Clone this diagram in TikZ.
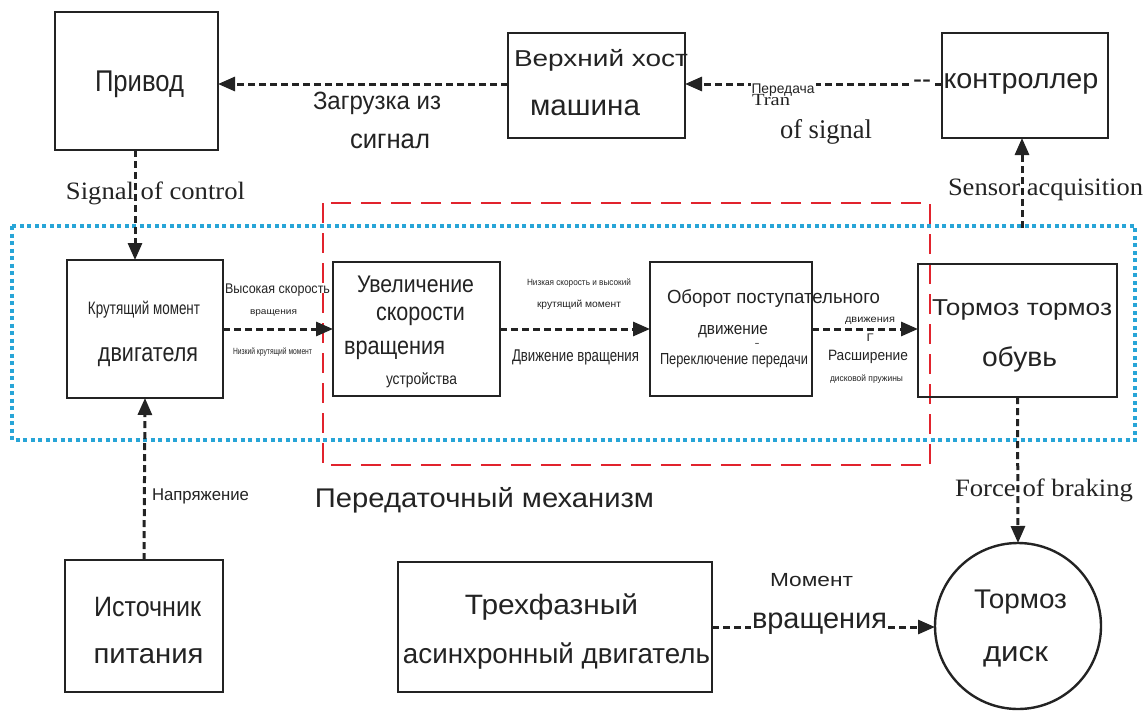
\documentclass[tikz,border=0pt]{standalone}
\usepackage{fontspec}
\usepackage{graphicx}
\setmainfont{Liberation Sans}
\newfontfamily\tms{Liberation Serif}
\usetikzlibrary{arrows.meta}
\definecolor{ink}{RGB}{35,35,35}
\definecolor{cyanb}{RGB}{40,165,215}
\definecolor{redb}{RGB}{225,35,45}
% \tx{width}{size}{text}: text set at a size, then fitted to a width
\newcommand\tx[3]{\resizebox{#1pt}{\height}{\fontsize{#2}{#2}\selectfont #3}}
\newcommand\txs[3]{\resizebox{#1pt}{\height}{\tms\fontsize{#2}{#2}\selectfont #3}}
\tikzset{
  box/.style={draw=ink, line width=2.4pt, inner sep=0pt, outer sep=0pt},
  arr/.style={draw=ink, line width=3pt, dash pattern=on 7pt off 4pt, -{Triangle[length=17pt,width=14pt]}},
  lbl/.style={text=ink, inner sep=1pt},
  wb/.style={fill=white}
}
\begin{document}
\begin{tikzpicture}[x=1pt,y=-1pt]
\useasboundingbox (0,0) rectangle (1148,720);
% group frames
\draw[cyanb, line width=3.5pt, dash pattern=on 4pt off 3.5pt] (12,226) rectangle (1135,440);
\draw[redb, line width=2.6pt, dash pattern=on 20pt off 10pt] (323,203) rectangle (930,465);
% boxes
\node[box, minimum width=163pt, minimum height=138pt] (privod) at (136.5,81) {};
\node[box, minimum width=177pt, minimum height=105pt] (host) at (596.5,85.5) {};
\node[box, minimum width=166pt, minimum height=105pt] (kont) at (1025,85.5) {};
\node[box, minimum width=156pt, minimum height=138pt] (krut) at (145,329) {};
\node[box, minimum width=167pt, minimum height=134pt] (uvel) at (416.5,329) {};
\node[box, minimum width=162pt, minimum height=134pt] (obor) at (731,329) {};
\node[box, minimum width=199pt, minimum height=133pt] (obuv) at (1017.5,330.5) {};
\node[box, minimum width=158pt, minimum height=132pt] (ist) at (144,626) {};
\node[box, minimum width=314pt, minimum height=130pt] (tri) at (555,627) {};
\node[box, circle, minimum size=166pt] (disk) at (1018,626) {};
\coordinate (sa) at (1022,228);
% connectors
\draw[arr] (kont.west |- 0,84) -- (host.east |- 0,84);
\draw[arr] (host.west |- 0,84) -- (privod.east |- 0,84);
\draw[arr] (135,150) -- (135,260);
\draw[arr] (ist.north) -- (krut.south);
\draw[arr] (krut.east) -- (uvel.west);
\draw[arr] (uvel.east) -- (obor.west);
\draw[arr] (obor.east) -- (obuv.west |- obor.east);
\draw[arr] (sa) -- (sa |- kont.south);
\draw[arr] (obuv.south) -- (disk.north);
\draw[arr] (tri.east) -- (disk.west |- tri.east);
% texts
\node[lbl] (t1) at (139.5,84) {\tx{89}{30}{Привод}};
\node[lbl] (t2) at (601,60) {\tx{174}{23}{Верхний хост}};
\node[lbl] (t3) at (585,108) {\tx{110}{29}{машина}};
\node[lbl, wb] (t4a) at (1021,84) {\tx{155}{28}{контроллер}};
\node[lbl, wb] (t4) at (922,84) {\tx{18}{28}{-{}-}};
\node[lbl] (t5) at (377,103) {\tx{128}{25}{Загрузка из}};
\node[lbl] (t6) at (390,141) {\tx{80}{27}{сигнал}};
\node[lbl, wb] (t7) at (783,90) {\tx{63}{14}{Передача}};
\node[lbl] (t8) at (771,100) {\txs{38}{17}{Tran}};
\node[lbl] (t9) at (826,132) {\txs{92}{27}{of signal}};
\node[lbl] (t10) at (155.5,193) {\txs{179}{25}{Signal of control}};
\node[lbl] (t11) at (1045.5,190) {\txs{195}{25}{Sensor acquisition}};
\node[lbl] (t12) at (1044,490) {\txs{178}{25}{Force of braking}};
\node[lbl] (t13) at (144,310) {\tx{112}{18}{Крутящий момент}};
\node[lbl] (t14) at (148,357) {\tx{100}{26}{двигателя}};
\node[lbl] (t15) at (147.5,607) {\tx{107}{28}{Источник}};
\node[lbl] (t16) at (148.5,656) {\tx{110}{28}{питания}};
\node[lbl] (t17) at (200.5,496) {\tx{97}{17}{Напряжение}};
\node[lbl] (t18) at (484.5,500) {\tx{339}{27}{Передаточный механизм}};
\node[lbl] (t19) at (415.5,284) {\tx{117}{24}{Увеличение}};
\node[lbl] (t20) at (420.5,316) {\tx{89}{25}{скорости}};
\node[lbl] (t21) at (394.5,350) {\tx{101}{25}{вращения}};
\node[lbl] (t22) at (421.5,380) {\tx{71}{16}{устройства}};
\node[lbl] (t23) at (277.5,290) {\tx{105}{14}{Высокая скорость}};
\node[lbl] (t24) at (273.5,313) {\tx{47}{9}{вращения}};
\node[lbl] (t25) at (272.5,352) {\tx{79}{9}{Низкий крутящий момент}};
\node[lbl] (t26) at (579,283) {\tx{104}{9}{Низкая скорость и высокий}};
\node[lbl] (t27) at (579,305) {\tx{84}{10}{крутящий момент}};
\node[lbl] (t28) at (575.5,357) {\tx{127}{17}{Движение вращения}};
\node[lbl] (t29) at (773.5,298) {\tx{213}{19}{Оборот поступательного}};
\node[lbl] (t30) at (733,332) {\tx{70}{17}{движение}};
\node[lbl] (t31) at (757,345) {\tx{5}{10}{-}};
\node[lbl] (t32) at (734,361) {\tx{148}{16}{Переключение передачи}};
\node[lbl] (t33) at (870,321) {\tx{50}{10}{движения}};
\node[lbl] (t34) at (870,338) {\tx{7}{11}{Г}};
\node[lbl] (t35) at (868,357) {\tx{80}{15}{Расширение}};
\node[lbl] (t36) at (866.5,379) {\tx{73}{9}{дисковой пружины}};
\node[lbl] (t37) at (1022,310) {\tx{180}{23}{Тормоз тормоз}};
\node[lbl] (t38) at (1019.5,359) {\tx{75}{27}{обувь}};
\node[lbl] (t39) at (1020.5,602) {\tx{93}{27}{Тормоз}};
\node[lbl] (t40) at (1015.5,657) {\tx{65}{28}{диск}};
\node[lbl] (t41) at (551.5,607) {\tx{173}{28}{Трехфазный}};
\node[lbl] (t42) at (556.5,656) {\tx{307}{28}{асинхронный двигатель}};
\node[lbl] (t43) at (811.5,580) {\tx{83}{19}{Момент}};
\node[lbl, wb] (t44) at (819.5,624) {\tx{135}{29}{вращения}};
\end{tikzpicture}
\end{document}
